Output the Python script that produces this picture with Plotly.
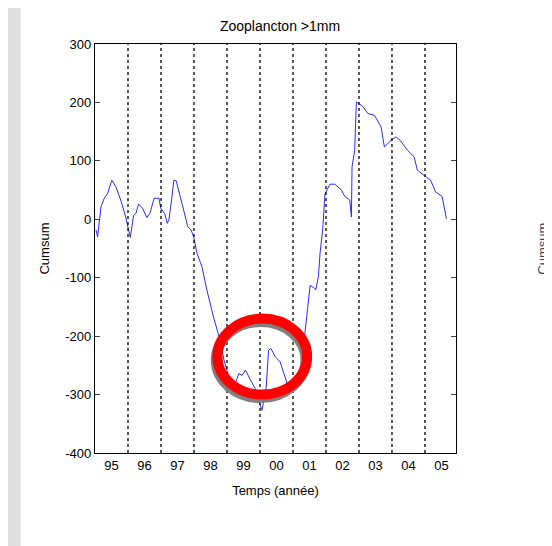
import plotly.graph_objects as go

years = [1995.03,1995.08,1995.18,1995.28,1995.38,1995.51,1995.63,1995.78,1995.93,1996.07,1996.17,1996.24,1996.32,1996.44,1996.57,1996.67,1996.79,1996.94,1996.99,1997.11,1997.19,1997.24,1997.32,1997.39,1997.46,1997.59,1997.74,1997.81,1997.91,1997.99,1998.09,1998.24,1998.39,1998.59,1998.76,1998.91,1999.06,1999.21,1999.36,1999.46,1999.56,1999.71,1999.86,1999.96,2000.06,2000.19,2000.26,2000.33,2000.46,2000.61,2000.77,2000.92,2001.07,2001.22,2001.35,2001.52,2001.65,2001.69,2001.77,2001.82,2001.90,2001.97,2002.12,2002.27,2002.47,2002.57,2002.72,2002.77,2002.79,2002.87,2002.92,2003.12,2003.27,2003.47,2003.67,2003.77,2003.97,2004.12,2004.25,2004.47,2004.67,2004.77,2005.02,2005.17,2005.32,2005.52,2005.65]
cumsum = [-18,-30,21,36,44,67,56,33,4,-31,7,10,26,19,3,11,36,36,19,10,-7,-1,33,67,66,39,4,-13,-18,-30,-58,-81,-121,-167,-201,-241,-270,-287,-264,-267,-258,-275,-290,-310,-327,-287,-224,-221,-235,-244,-270,-298,-287,-281,-201,-113,-118,-121,-98,-58,-18,44,60,60,50,39,33,4,90,118,201,193,181,178,158,124,135,141,135,118,107,84,73,67,47,39,1]
xtick_vals = [1995.5+i for i in range(11)]
xtick_text = ["95","96","97","98","99","00","01","02","03","04","05"]
ytick_vals = [300,200,100,0,-100,-200,-300,-400]
ytick_text = ["300","200","100","0","-100","-200","-300","-400"]
year_lines = list(range(1996, 2006))

fig = go.Figure()
fig.add_trace(go.Scatter(x=years, y=cumsum, mode="lines",
                         line=dict(color="#2b2bff", width=1), showlegend=False))

shapes = [dict(type="rect", xref="paper", yref="paper", x0=-0.206, x1=1.5, y0=-0.5, y1=1.2,
               fillcolor="white", line_width=0, layer="below")]
for yl in year_lines:
    shapes.append(dict(type="line", xref="x", yref="paper", x0=yl, x1=yl, y0=0, y1=1,
                       line=dict(color="black", width=1.3, dash="3px,3px")))
cx, cy = 2000.07, -235
shapes.append(dict(type="circle", xref="x", yref="y", x0=cx-1.36-0.05, x1=cx+1.36-0.05, y0=cy-65-6, y1=cy+65-6,
                   line=dict(color="#808080", width=10)))
shapes.append(dict(type="circle", xref="x", yref="y", x0=cx-1.36, x1=cx+1.36, y0=cy-65, y1=cy+65,
                   line=dict(color="#ff0000", width=10)))

fig.update_layout(
    width=544, height=538,
    margin=dict(l=86.5, r=96, t=36, b=93),
    paper_bgcolor="#dedede", plot_bgcolor="white",
    font=dict(family="Liberation Sans, Arial", size=13, color="black"),
    title=dict(text="Zooplancton >1mm", x=0.5, xanchor="center", y=1-18/538, yanchor="middle",
               font=dict(size=14)),
    shapes=shapes,
    xaxis=dict(range=[1995.0, 2005.94], tickvals=xtick_vals, ticktext=xtick_text,
               ticks="", showgrid=False, zeroline=False, showline=True, linecolor="black",
               linewidth=1.2, mirror=True,
               title=dict(text="Temps (année)", font=dict(size=13), standoff=14)),
    yaxis=dict(range=[-400, 300], tickvals=ytick_vals, ticktext=ytick_text, ticks="inside", ticklen=5,
               showgrid=False, zeroline=False, showline=True, linecolor="black",
               linewidth=1.2, mirror="ticks",
               title=dict(text="Cumsum", font=dict(size=13), standoff=12)),
    annotations=[dict(text="Cumsum", xref="paper", yref="paper", x=1.265, y=0.5,
                      textangle=-90, showarrow=False, font=dict(size=13, color="#444"))],
)
fig.write_html("out.html")
